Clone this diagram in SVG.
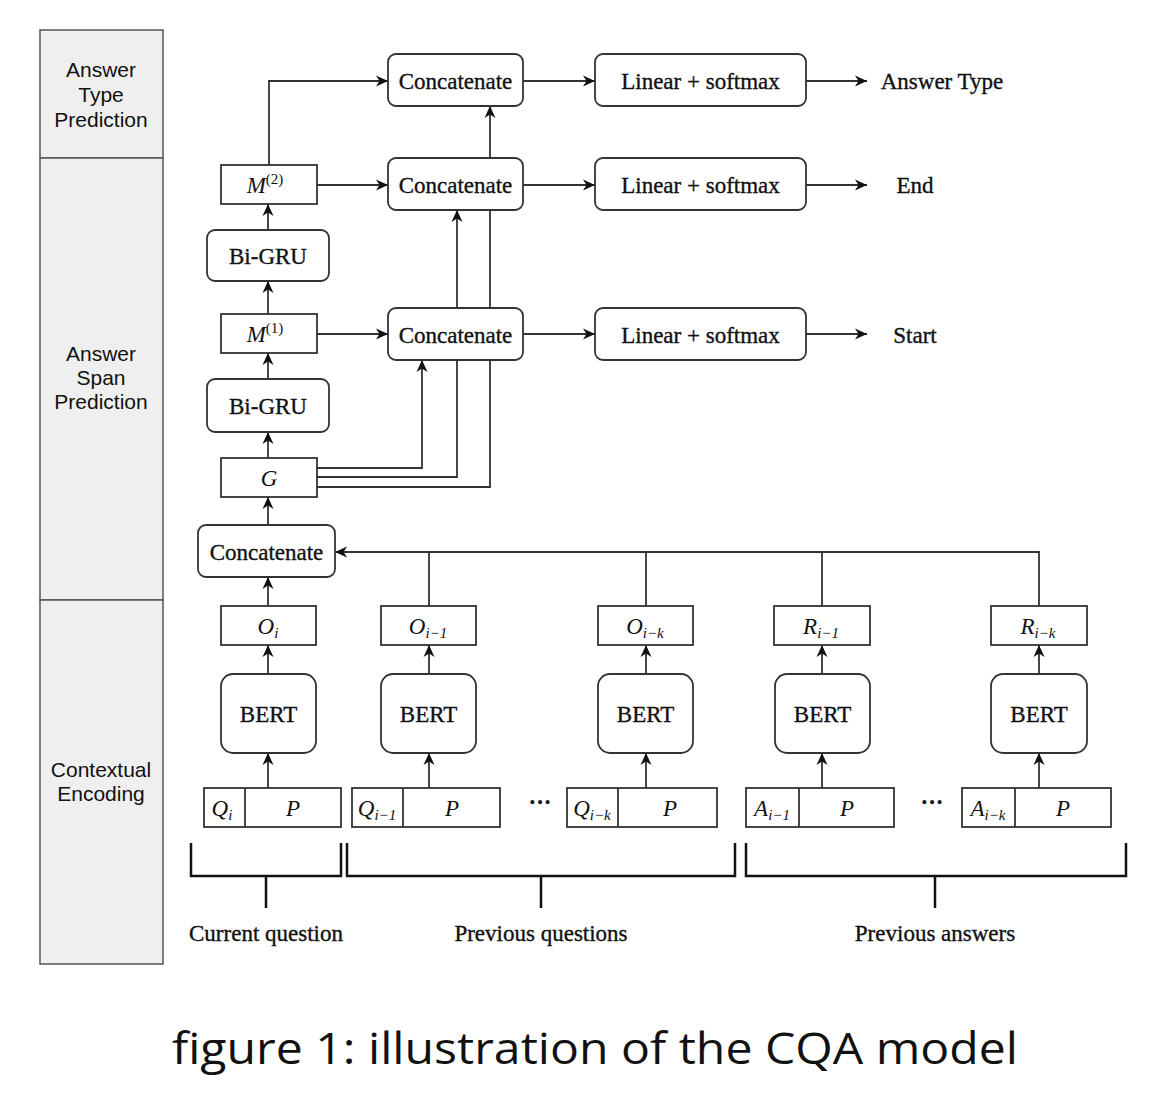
<svg xmlns="http://www.w3.org/2000/svg" width="1173" height="1100" viewBox="0 0 1173 1100">
<defs>
<marker id="ah" markerUnits="userSpaceOnUse" markerWidth="14" markerHeight="12" refX="12" refY="6" orient="auto">
<path d="M0,0.5 L12,6 L0,11.5 L3.5,6 z" fill="#111"/>
</marker>
</defs>
<style>
.side{fill:#efefef;stroke:#555;stroke-width:1.5}
.st{font-family:"Liberation Sans",Arial,sans-serif;font-size:21px;fill:#111;text-anchor:middle}
.box{fill:#fff;stroke:#333;stroke-width:1.8}
.lbl{font-family:"Liberation Serif","DejaVu Serif",serif;font-size:23px;fill:#111;stroke:#111;stroke-width:0.35;text-anchor:middle}
.math{font-family:"Liberation Serif","DejaVu Serif",serif;font-style:italic;font-size:23px;fill:#111;text-anchor:middle}
.sub{font-size:15px}
.con{fill:none;stroke:#333;stroke-width:1.8}
.arr{fill:none;stroke:#333;stroke-width:1.8;marker-end:url(#ah)}
.br{fill:none;stroke:#111;stroke-width:2.5}
.cap{font-family:"Open Sans","Noto Sans",sans-serif;font-size:44px;fill:#111;text-anchor:middle}
</style>
<rect width="1173" height="1100" fill="#fff"/>

<g id="sidebar">
<rect class="side" x="40" y="30" width="123" height="128"/>
<rect class="side" x="40" y="158" width="123" height="442"/>
<rect class="side" x="40" y="600" width="123" height="364"/>
<text class="st" x="101" y="77">Answer</text>
<text class="st" x="101" y="102">Type</text>
<text class="st" x="101" y="127">Prediction</text>
<text class="st" x="101" y="361">Answer</text>
<text class="st" x="101" y="385">Span</text>
<text class="st" x="101" y="409">Prediction</text>
<text class="st" x="101" y="777">Contextual</text>
<text class="st" x="101" y="801">Encoding</text>
</g>

<g id="connectors">
<path class="arr" d="M269,165 V81 H388"/>
<path class="arr" d="M317,185 H388"/>
<path class="arr" d="M317,334 H388"/>
<path class="arr" d="M523,81 H595"/>
<path class="arr" d="M523,185 H595"/>
<path class="arr" d="M523,334 H595"/>
<path class="arr" d="M806,81 H867"/>
<path class="arr" d="M806,185 H867"/>
<path class="arr" d="M806,334 H867"/>
<path class="arr" d="M317,487 H490 V106"/>
<path class="arr" d="M317,477 H457 V210"/>
<path class="arr" d="M317,468 H422 V360"/>
<path class="arr" d="M268,230 V204"/>
<path class="arr" d="M268,314 V281"/>
<path class="arr" d="M268,379 V353"/>
<path class="arr" d="M268,458 V432"/>
<path class="arr" d="M268,525 V497"/>
<path class="arr" d="M268,606 V577"/>
<path class="arr" d="M268,674 V645"/>
<path class="arr" d="M268,788 V753"/>
<path class="arr" d="M429,674 V645"/>
<path class="arr" d="M429,788 V753"/>
<path class="arr" d="M646,674 V645"/>
<path class="arr" d="M646,788 V753"/>
<path class="arr" d="M822,674 V645"/>
<path class="arr" d="M822,788 V753"/>
<path class="arr" d="M1039,674 V645"/>
<path class="arr" d="M1039,788 V753"/>
<path class="con" d="M429,606 V552"/>
<path class="con" d="M646,606 V552"/>
<path class="con" d="M822,606 V552"/>
<path class="arr" d="M1039,606 V552 H335"/>
</g>

<g id="concat1"><rect class="box" x="388" y="54" width="135" height="52" rx="8"/><text class="lbl" x="455.5" y="89">Concatenate</text></g>
<g id="concat2"><rect class="box" x="388" y="158" width="135" height="52" rx="8"/><text class="lbl" x="455.5" y="193">Concatenate</text></g>
<g id="concat3"><rect class="box" x="388" y="308" width="135" height="52" rx="8"/><text class="lbl" x="455.5" y="343">Concatenate</text></g>
<g id="linear1"><rect class="box" x="595" y="54" width="211" height="52" rx="8"/><text class="lbl" x="700.5" y="89">Linear + softmax</text></g>
<g id="linear2"><rect class="box" x="595" y="158" width="211" height="52" rx="8"/><text class="lbl" x="700.5" y="193">Linear + softmax</text></g>
<g id="linear3"><rect class="box" x="595" y="308" width="211" height="52" rx="8"/><text class="lbl" x="700.5" y="343">Linear + softmax</text></g>
<g id="out-type"><text class="lbl" x="942" y="89">Answer Type</text></g>
<g id="out-end"><text class="lbl" x="915" y="193">End</text></g>
<g id="out-start"><text class="lbl" x="915" y="343">Start</text></g>

<g id="m2"><rect class="box" x="221" y="165" width="96" height="39"/><text class="math" x="265" y="193">M<tspan class="sub" font-style="normal" dy="-9">(2)</tspan></text></g>
<g id="bigru2"><rect class="box" x="207" y="230" width="122" height="51" rx="8"/><text class="lbl" x="268" y="264">Bi-GRU</text></g>
<g id="m1"><rect class="box" x="221" y="314" width="96" height="39"/><text class="math" x="265" y="342">M<tspan class="sub" font-style="normal" dy="-9">(1)</tspan></text></g>
<g id="bigru1"><rect class="box" x="207" y="379" width="122" height="53" rx="8"/><text class="lbl" x="268" y="414">Bi-GRU</text></g>
<g id="g"><rect class="box" x="221" y="458" width="96" height="39"/><text class="math" x="269" y="486">G</text></g>
<g id="concat0"><rect class="box" x="198" y="525" width="137" height="52" rx="8"/><text class="lbl" x="266.5" y="560">Concatenate</text></g>

<g id="o-i"><rect class="box" x="221" y="606" width="95" height="39"/><text class="math" x="268" y="634">O<tspan class="sub" dy="4">i</tspan></text></g>
<g id="o-i1"><rect class="box" x="381" y="606" width="95" height="39"/><text class="math" x="428" y="634">O<tspan class="sub" dy="4">i−1</tspan></text></g>
<g id="o-ik"><rect class="box" x="598" y="606" width="95" height="39"/><text class="math" x="645" y="634">O<tspan class="sub" dy="4">i−k</tspan></text></g>
<g id="r-i1"><rect class="box" x="774" y="606" width="96" height="39"/><text class="math" x="821" y="634">R<tspan class="sub" dy="4">i−1</tspan></text></g>
<g id="r-ik"><rect class="box" x="991" y="606" width="96" height="39"/><text class="math" x="1038" y="634">R<tspan class="sub" dy="4">i−k</tspan></text></g>

<g id="bert1"><rect class="box" x="221" y="674" width="95" height="79" rx="12"/><text class="lbl" x="268.5" y="722">BERT</text></g>
<g id="bert2"><rect class="box" x="381" y="674" width="95" height="79" rx="12"/><text class="lbl" x="428.5" y="722">BERT</text></g>
<g id="bert3"><rect class="box" x="598" y="674" width="95" height="79" rx="12"/><text class="lbl" x="645.5" y="722">BERT</text></g>
<g id="bert4"><rect class="box" x="775" y="674" width="95" height="79" rx="12"/><text class="lbl" x="822.5" y="722">BERT</text></g>
<g id="bert5"><rect class="box" x="991" y="674" width="96" height="79" rx="12"/><text class="lbl" x="1039" y="722">BERT</text></g>

<g id="in-qi"><rect class="box" x="204" y="788" width="137" height="39"/><line class="con" x1="245" y1="788" x2="245" y2="827"/><text class="math" x="222" y="816">Q<tspan class="sub" dy="4">i</tspan></text><text class="math" x="293" y="816">P</text></g>
<g id="in-qi1"><rect class="box" x="352" y="788" width="148" height="39"/><line class="con" x1="403" y1="788" x2="403" y2="827"/><text class="math" x="377" y="816">Q<tspan class="sub" dy="4">i−1</tspan></text><text class="math" x="452" y="816">P</text></g>
<g id="dots1"><text class="lbl" x="540" y="810" font-weight="bold">···</text></g>
<g id="in-qik"><rect class="box" x="567" y="788" width="150" height="39"/><line class="con" x1="618" y1="788" x2="618" y2="827"/><text class="math" x="592" y="816">Q<tspan class="sub" dy="4">i−k</tspan></text><text class="math" x="670" y="816">P</text></g>
<g id="in-ai1"><rect class="box" x="746" y="788" width="148" height="39"/><line class="con" x1="799" y1="788" x2="799" y2="827"/><text class="math" x="772" y="816">A<tspan class="sub" dy="4">i−1</tspan></text><text class="math" x="847" y="816">P</text></g>
<g id="dots2"><text class="lbl" x="932" y="810" font-weight="bold">···</text></g>
<g id="in-aik"><rect class="box" x="962" y="788" width="149" height="39"/><line class="con" x1="1015" y1="788" x2="1015" y2="827"/><text class="math" x="988" y="816">A<tspan class="sub" dy="4">i−k</tspan></text><text class="math" x="1063" y="816">P</text></g>

<g id="brackets">
<path class="br" d="M191,843 V876 H341 V843"/>
<path class="br" d="M266,876 V908"/>
<path class="br" d="M347,843 V876 H735 V843"/>
<path class="br" d="M541,876 V908"/>
<path class="br" d="M746,843 V876 H1126 V843"/>
<path class="br" d="M935,876 V908"/>
</g>
<g id="lbl-current"><text class="lbl" x="266" y="941">Current question</text></g>
<g id="lbl-prevq"><text class="lbl" x="541" y="941">Previous questions</text></g>
<g id="lbl-preva"><text class="lbl" x="935" y="941">Previous answers</text></g>

<g id="caption"><text class="cap" x="595" y="1064" textLength="846" lengthAdjust="spacingAndGlyphs">figure 1: illustration of the CQA model</text></g>
</svg>
